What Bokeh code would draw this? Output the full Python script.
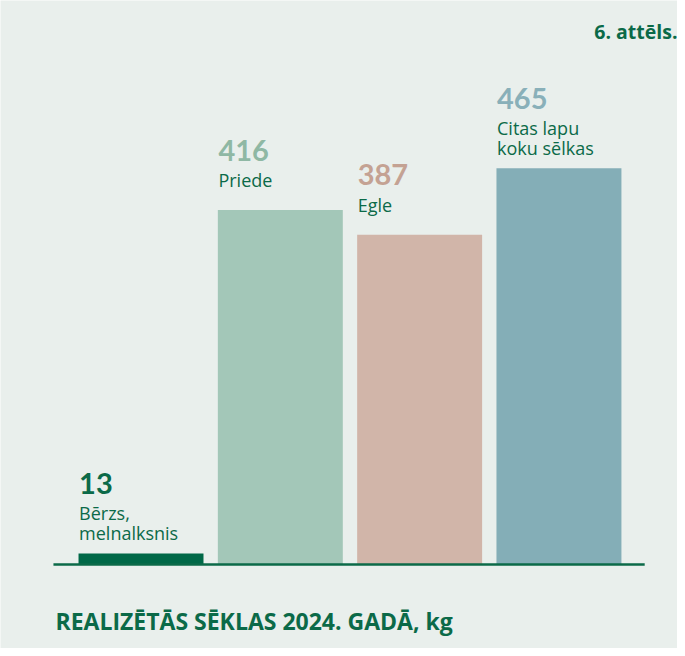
from bokeh.plotting import figure
from bokeh.models import ColumnDataSource, Range1d, Label
from bokeh.core.properties import value
from bokeh.embed import file_html
from bokeh.resources import INLINE

# ---- data ----
categories = ["Bērzs,\nmelnalksnis", "Priede", "Egle", "Citas lapu\nkoku sēlkas"]
values = [13, 416, 387, 465]
bar_colors = ["#006847", "#a3c7b8", "#d1b5a9", "#84aeb7"]
num_colors = ["#0b6a48", "#8fb8a4", "#c4a293", "#89b0b9"]
title_text = "REALIZĒTĀS SĒKLAS 2024. GADĀ, kg"
figure_no = "6. attēls."

BG = "#e9efec"
DARK = "#0b6a48"
FONT = "Lato"
LFONT = "Open Sans"
BAR_W = 0.897
LINE_H = 20

xs = list(range(len(values)))
src = ColumnDataSource(dict(x=xs, top=values, color=bar_colors))

p = figure(width=677, height=648,
           x_range=Range1d(-1.0086, 3.851), y_range=Range1d(-98.6, 662.0),
           output_backend="svg", toolbar_location=None,
           x_axis_type=None, y_axis_type=None, min_border=0,
           background_fill_color=BG, border_fill_color=BG,
           outline_line_color=None)
p.grid.visible = False

p.vbar(x="x", top="top", bottom=0, width=BAR_W, fill_color="color",
       line_color=None, source=src)

# baseline
p.segment(x0=[xs[0] - BAR_W / 2 - 0.18], x1=[xs[-1] + BAR_W / 2 + 0.167],
          y0=[0], y1=[0], line_color=DARK, line_width=2.6)

# category labels (line by line) and value numbers
lx, ly, lt, loff = [], [], [], []
nx, ny, nt, noff, nc = [], [], [], [], []
for i, (lab, v) in enumerate(zip(categories, values)):
    lines = lab.split("\n")
    n = len(lines)
    left = xs[i] - BAR_W / 2 + 0.004
    for j, line in enumerate(lines):
        lx.append(left)
        ly.append(v)
        lt.append(line)
        loff.append(-30 + (j - (n - 1) / 2) * LINE_H)
    nx.append(left)
    ny.append(v)
    nt.append(str(v))
    noff.append(-(60 + (n - 1) * LINE_H / 2))
    nc.append(num_colors[i])

p.text(x=lx, y=ly, text=lt, y_offset=loff, text_font=value(LFONT),
       text_font_size="18px", text_color=DARK, text_baseline="middle",
       text_align="left")
p.text(x=nx, y=ny, text=nt, y_offset=noff, text_font=value(FONT),
       text_font_size="29px", text_font_style="bold", text_color=nc,
       text_baseline="middle", text_align="left")

p.add_layout(Label(x=55, y=28, x_units="screen", y_units="screen",
                   text=title_text, text_font=LFONT, text_font_size="23px",
                   text_font_style="bold", text_color=DARK,
                   text_baseline="middle"))
p.add_layout(Label(x=677, y=617, x_units="screen", y_units="screen",
                   text=figure_no, text_font=LFONT, text_font_size="19.5px",
                   text_font_style="bold", text_color=DARK,
                   text_baseline="middle", text_align="right"))

html = file_html(p, INLINE)
html = html.replace("<body>", '<body style="background:#f3f7f4">', 1)
open("out.html", "w").write(html)
